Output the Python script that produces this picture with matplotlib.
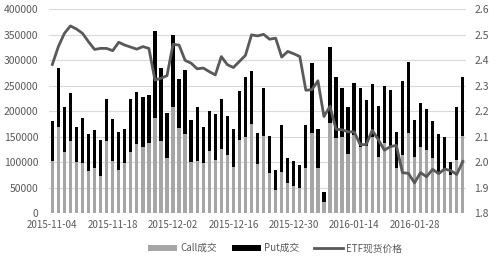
import matplotlib
matplotlib.use("Agg")
import matplotlib.pyplot as plt
import numpy as np
import pandas as pd

plt.rcParams['font.family'] = ['Noto Sans CJK SC', 'DejaVu Sans']

# trading days from 2015-11-04 (no 2016-01-01, no spring festival week)
dates = pd.bdate_range('2015-11-04', '2016-02-15')
dates = [d for d in dates if not (d == pd.Timestamp('2016-01-01')
                                  or pd.Timestamp('2016-02-08') <= d <= pd.Timestamp('2016-02-12'))]
date_labels = [d.strftime('%Y-%m-%d') for d in dates]

call_vol = [102600, 168600, 120900, 142500, 101300, 99300, 83000, 88200, 73200, 142000,
            103300, 85000, 98000, 119600, 135900, 130700, 137300, 186300, 141800, 109200,
            207800, 168000, 154900, 100700, 103300, 98000, 122900, 104600, 126100, 114400,
            91500, 143800, 149000, 175200, 96700, 151600, 79700, 45800, 81700, 60100,
            53600, 49000, 88200, 156900, 88200, 21600, 176500, 147100, 149000, 116300,
            153600, 130700, 132000, 149000, 111100, 138600, 130700, 88200, 114400, 156900,
            109800, 130700, 124200, 107800, 78400, 85000, 75200, 104600, 152300]
put_vol = [79100, 117000, 88300, 94100, 68600, 88300, 71900, 75200, 70600, 82200,
           81000, 73800, 67400, 105400, 102700, 96800, 95400, 171200, 143800, 86900,
           141900, 94700, 126100, 82300, 105900, 71900, 78400, 89500, 98100, 76500,
           73900, 96700, 117700, 103900, 60200, 94800, 72600, 39200, 91500, 47700,
           49000, 45800, 85000, 137200, 76500, 20900, 150300, 119600, 96100, 91500,
           101300, 114400, 90200, 103900, 100000, 111100, 111300, 70600, 145700, 140500,
           73200, 85000, 80400, 73900, 77200, 64000, 26100, 104600, 114400]
etf_price = [2.384, 2.454, 2.506, 2.535, 2.523, 2.506, 2.473, 2.443, 2.447, 2.447,
             2.438, 2.471, 2.460, 2.452, 2.444, 2.454, 2.447, 2.323, 2.330, 2.340,
             2.463, 2.460, 2.400, 2.389, 2.367, 2.370, 2.356, 2.343, 2.415, 2.383,
             2.372, 2.396, 2.420, 2.500, 2.496, 2.502, 2.483, 2.487, 2.413, 2.435,
             2.426, 2.415, 2.283, 2.285, 2.320, 2.180, 2.220, 2.130, 2.128, 2.120,
             2.120, 2.070, 2.070, 2.126, 2.090, 2.048, 2.062, 2.067, 1.960, 1.957,
             1.920, 1.960, 1.944, 1.973, 1.956, 1.974, 1.968, 1.953, 2.004]

n = len(call_vol)
x = np.arange(n)
txt = '#595959'

fig = plt.figure(figsize=(5, 2.6), dpi=100)
ax = fig.add_axes([0.0986, 0.179, 0.833, 0.785])
ax2 = ax.twinx()

ax.bar(x, call_vol, width=0.55, color='#a6a6a6', label='Call成交', zorder=2)
ax.bar(x, put_vol, width=0.55, bottom=call_vol, color='#000000', label='Put成交', zorder=2)
ax2.plot(x, etf_price[:n], color='#595959', lw=2, label='ETF现货价格')

ax.set_xlim(-0.5, n - 0.5)
ax.set_ylim(0, 400000)
ax.set_yticks(np.arange(0, 400001, 50000))
ax2.set_ylim(1.8, 2.6)
ax2.set_yticks(np.arange(1.8, 2.61, 0.1))
ax2.set_yticklabels(['%.1f' % v for v in np.arange(1.8, 2.61, 0.1)])

ticks = list(range(0, n, 10))
ax.set_xticks(ticks)
ax.set_xticklabels([date_labels[i] for i in ticks])

ax.grid(axis='y', color='#d9d9d9', lw=0.8, zorder=0)
for a in (ax, ax2):
    for s in a.spines.values():
        s.set_visible(False)
    a.tick_params(length=0, labelsize=7.5, colors=txt)
ax.tick_params(axis='x', labelsize=7, pad=5)
ax.tick_params(axis='y', pad=8)
ax2.tick_params(axis='y', pad=6)

h1, l1 = ax.get_legend_handles_labels()
h2, l2 = ax2.get_legend_handles_labels()
fig.legend(h1 + h2, l1 + l2, loc='center', bbox_to_anchor=(0.55, 0.045), ncol=3,
           frameon=False, fontsize=7, handlelength=3, handleheight=0.5,
           columnspacing=1.5, handletextpad=0.3, labelcolor=txt)

fig.savefig('out.png', dpi=100)
